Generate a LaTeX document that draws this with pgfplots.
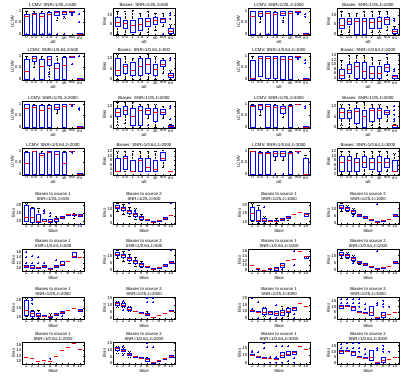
\documentclass[border=0pt]{standalone}
\usepackage{fontspec}
\setmainfont{Liberation Sans}
\usepackage{pgfplots}
\pgfplotsset{compat=1.18}
\usepgfplotslibrary{statistics}
\newcommand\fs{\fontsize{4.3}{4.8}\selectfont}
\pgfplotsset{
  pan/.style={scale only axis, width=62pt, anchor=north west, font=\fs,
    tick label style={font=\fs}, label style={font=\fs},
    every axis title shift=0.3pt,
    title style={font=\fs, inner sep=0.5pt, align=center},
    /pgf/number format/assume math mode=true, scaled ticks=false,
    tick align=inside, major tick length=1.2pt,
    axis line style={line width=0.5pt},
    every tick/.style={line width=0.3pt},
    ylabel style={inner sep=0.6pt}, xlabel style={inner sep=0.4pt},
    yticklabel style={inner sep=0.6pt}, xticklabel style={inner sep=0.7pt},
    clip=false},
  top/.style={pan, height=27pt, xmin=0.4, xmax=8.6, xtick={1,...,8},
    xticklabels={0,0.5,1,1.5,2,sh,ma,mi}, xlabel={α0}, boxplot/box extend=0.6},
  lc/.style={top, ylabel=LCMV, ymin=-0.05, ymax=1.12, ytick={0,0.5,1}},
  bi/.style={top, ylabel=Bias},
  bot/.style={pan, height=22pt, xmin=0.3, xmax=10.7, xtick={1,...,10}, xlabel=Slice, ylabel=Bias, boxplot/box extend=0.65},
  bxs/.style={draw=blue, line width=0.35pt, solid, boxplot/draw direction=y,
    boxplot/whisker extend=0.3,
    boxplot/every median/.style={draw=red, line width=0.45pt},
    boxplot/every whisker/.style={draw=black, dash pattern=on 0.8pt off 0.6pt}},
}
\newcommand\bx[6]{\addplot[bxs, boxplot prepared={draw position=#1, lower whisker=#2, lower quartile=#3, median=#4, upper quartile=#5, upper whisker=#6}] coordinates {};}
\newcommand\ol[1]{\addplot[only marks, mark=+, mark size=1pt, blue, line width=0.3pt] coordinates {#1};}
\begin{document}
\begin{tikzpicture}
\useasboundingbox (0,0) rectangle (403pt,376pt);
% ---------------- Row 1
\begin{axis}[lc, at={(22pt,368pt)}, title={LCMV: SNR=1/25,J=500}]
\bx{1}{0}{0}{0.75}{0.85}{1}
\bx{2}{0}{0}{0.85}{0.9}{1}
\bx{3}{0}{0}{0.75}{0.9}{1}
\bx{4}{0}{0}{0.85}{0.95}{1}
\bx{5}{0.6}{0.8}{0.95}{1}{1}
\bx{6}{0.7}{0.85}{0.95}{1}{1}
\bx{7}{0.85}{0.92}{0.98}{1}{1}
\bx{8}{0}{0}{0}{0.03}{0.05}
\ol{(1,0) (2,0) (3,0) (4,0) (5,0) (6,0) (6,0.75) (7,0.8) (7,0.86) (7,0.9) (8,0.85) (8,0.5)}
\end{axis}
\begin{axis}[bi, at={(113pt,368pt)}, title={Biases: SNR=1/25,J=500}, ymin=-0.5, ymax=13.5, ytick={0,5,10}]
\bx{1}{0}{4}{6}{9}{12}
\bx{2}{0}{3}{5.5}{7}{12}
\bx{3}{0}{1}{4.5}{7}{12.5}
\bx{4}{0}{2}{5}{8}{11}
\bx{5}{1}{4}{6.5}{8}{12}
\bx{6}{2}{5}{7}{9}{11}
\bx{7}{4}{6}{7.5}{8}{11}
\bx{8}{0}{0.5}{1.5}{3}{5}
\ol{(7,0) (8,8) (8,10) (8,11)}
\end{axis}
\begin{axis}[lc, at={(248pt,368pt)}, title={LCMV: SNR=1/25,J=1000}]
\bx{1}{0}{0}{0.75}{1}{1}
\bx{2}{0.5}{0.75}{0.9}{1}{1}
\bx{3}{0}{0}{0.9}{1}{1}
\bx{4}{0}{0}{0.85}{0.95}{1}
\bx{5}{0.6}{0.8}{0.9}{1}{1}
\bx{6}{0}{0}{0.9}{1}{1}
\bx{7}{0.88}{0.93}{0.97}{1}{1}
\bx{8}{0}{0}{0}{0.02}{0.03}
\ol{(2,0) (3,0) (5,0.5) (7,0.85) (7,0.9) (8,0.85) (8,0.75)}
\end{axis}
\begin{axis}[bi, at={(337pt,368pt)}, title={Biases: SNR=1/25,J=1000}, ymin=-0.5, ymax=13.5, ytick={0,5,10}]
\bx{1}{0}{3}{4.5}{8}{12}
\bx{2}{1}{5}{6.5}{8}{11}
\bx{3}{0}{0}{6.5}{8}{11}
\bx{4}{0}{0}{6.5}{8}{12}
\bx{5}{1}{3}{6}{8}{12}
\bx{6}{1}{3}{6.5}{9}{12}
\bx{7}{2}{5}{7.5}{9}{12}
\bx{8}{0}{0.5}{1.5}{2.5}{4}
\ol{(8,7) (8,8)}
\end{axis}
% ---------------- Row 2
\begin{axis}[lc, at={(22pt,323pt)}, title={LCMV: SNR=1/0.64,J=500}]
\bx{1}{0}{0}{0.35}{0.85}{1}
\bx{2}{0.5}{0.75}{0.9}{1}{1}
\bx{3}{0}{0}{0.55}{0.85}{1}
\bx{4}{0.2}{0.6}{0.85}{1}{1}
\bx{5}{0}{0}{0.45}{0.7}{1}
\bx{6}{0}{0}{0.6}{0.95}{1}
\bx{7}{0.92}{0.96}{1}{1}{1}
\bx{8}{0}{0}{0}{0.02}{0.02}
\ol{(2,0) (4,0.1) (4,0.3) (7,0.65) (8,1)}
\end{axis}
\begin{axis}[bi, at={(113pt,323pt)}, title={Biases: SNR=1/0.64,J=500}, ymin=-0.5, ymax=12.5, ytick={0,5,10}]
\bx{1}{0}{2}{4}{10}{12}
\bx{2}{0}{3}{6}{7}{11}
\bx{3}{0}{2}{4}{8}{10}
\bx{4}{0}{2}{6}{10}{11}
\bx{5}{0}{3}{7}{10}{12}
\bx{6}{0}{2}{4.5}{7}{11}
\bx{7}{3}{6}{7}{9}{10}
\bx{8}{0}{1}{2}{3}{4}
\ol{(8,9) (8,10)}
\end{axis}
\begin{axis}[lc, at={(248pt,323pt)}, title={LCMV: SNR=1/0.64,J=1000}]
\bx{1}{0}{0}{0.02}{0.8}{1}
\bx{2}{0.1}{0.1}{0.9}{1}{1}
\bx{3}{0.05}{0.05}{0.9}{1}{1}
\bx{4}{0.05}{0.05}{0.9}{1}{1}
\bx{5}{0}{0}{0.85}{1}{1}
\bx{6}{0}{0}{0.85}{1}{1}
\bx{7}{0.88}{0.93}{0.97}{1}{1}
\bx{8}{0}{0}{0}{0.02}{0.02}
\ol{(7,0.85) (7,0.9) (8,0.7) (8,0.8)}
\end{axis}
\begin{axis}[bi, at={(337pt,323pt)}, title={Biases: SNR=1/0.64,J=1000}, ymin=3, ymax=15, ytick={4,6,...,14}]
\bx{1}{3}{4}{5}{8}{12}
\bx{2}{3}{6}{8}{10}{14}
\bx{3}{3}{4}{9}{11}{14}
\bx{4}{3}{4}{7}{11}{14}
\bx{5}{3}{4}{6}{9}{13}
\bx{6}{3}{4}{6}{9}{12}
\bx{7}{5}{7}{8.5}{10}{13}
\bx{8}{4}{4}{4.5}{5}{5}
\ol{(7,14.5) (8,7) (8,8)}
\end{axis}
% ---------------- Row 3
\begin{axis}[lc, at={(22pt,275pt)}, title={LCMV: SNR=1/25,J=2000}]
\bx{1}{0}{0}{0.8}{1}{1}
\bx{2}{0}{0}{0.85}{0.95}{1}
\bx{3}{0}{0}{0.7}{0.95}{1}
\bx{4}{0}{0}{0.8}{0.95}{1}
\bx{5}{0.6}{0.75}{0.85}{1}{1}
\bx{6}{0}{0}{0.9}{1}{1}
\bx{7}{0.95}{0.97}{1}{1}{1}
\bx{8}{0}{0}{0}{0.02}{0.02}
\ol{(7,0.9) (7,0.95) (8,0.8) (8,0.75)}
\end{axis}
\begin{axis}[bi, at={(113pt,275pt)}, title={Biases: SNR=1/25,J=2000}, ymin=-0.5, ymax=12.5, ytick={0,5,10}]
\bx{1}{1}{5}{7}{9}{12}
\bx{2}{2}{6}{8}{10}{12}
\bx{3}{0}{1}{5}{9}{12}
\bx{4}{0}{1}{8}{10}{11}
\bx{5}{4}{6}{8}{9}{11}
\bx{6}{0}{3}{7}{9}{11}
\bx{7}{4}{6}{7}{8.5}{10}
\bx{8}{0}{0}{0.5}{1}{1.5}
\ol{(5,1) (8,9) (8,10) (8,4)}
\end{axis}
\begin{axis}[lc, at={(248pt,275pt)}, title={LCMV: SNR=1/25,J=3000}]
\bx{1}{0}{0}{0.9}{0.95}{1}
\bx{2}{0.5}{0.75}{0.95}{1}{1}
\bx{3}{0}{0}{0.9}{1}{1}
\bx{4}{0}{0}{0.85}{0.95}{1}
\bx{5}{0.4}{0.6}{0.8}{0.9}{1}
\bx{6}{0}{0}{0.9}{0.95}{1}
\bx{7}{0.97}{0.98}{1}{1}{1}
\bx{8}{0}{0}{0}{0.02}{0.02}
\ol{(8,0.8) (8,0.9)}
\end{axis}
\begin{axis}[bi, at={(337pt,275pt)}, title={Biases: SNR=1/25,J=3000}, ymin=-0.5, ymax=12.5, ytick={0,5,10}]
\bx{1}{1}{4}{7}{9}{11}
\bx{2}{0}{4}{7}{8}{11}
\bx{3}{0}{2}{7.5}{9}{12}
\bx{4}{0}{0}{5}{8}{12}
\bx{5}{1}{3}{8}{9}{11}
\bx{6}{0}{4}{8}{9}{11}
\bx{7}{3}{6}{7}{8}{10}
\bx{8}{0}{0}{1}{1}{1.5}
\ol{(8,3) (8,4) (8,6) (8,8) (8,10)}
\end{axis}
% ---------------- Row 4
\begin{axis}[lc, at={(22pt,228pt)}, title={LCMV: SNR=1/0.64,J=2000}]
\bx{1}{0}{0}{0.45}{0.95}{1}
\bx{2}{0}{0}{1}{1}{1}
\bx{3}{0}{0}{0.8}{0.9}{1}
\bx{4}{0}{0}{0.95}{1}{1}
\bx{5}{0}{0}{0.85}{1}{1}
\bx{6}{0}{0}{0.45}{0.95}{1}
\bx{7}{0.97}{0.98}{1}{1}{1}
\bx{8}{0}{0}{0}{0.02}{0.02}
\ol{(7,0.95) (7,0.92)}
\end{axis}
\begin{axis}[bi, at={(113pt,228pt)}, title={Biases: SNR=1/0.64,J=2000}, ymin=1.5, ymax=13.5, ytick={2,4,...,12}]
\bx{1}{3}{3}{3}{9}{12}
\bx{2}{3}{4}{9}{10}{12}
\bx{3}{3}{3}{3}{8}{12}
\bx{4}{3}{3}{8}{9}{12}
\bx{5}{3}{3}{5}{9}{12}
\bx{6}{3}{3}{4}{8}{12}
\bx{7}{5}{8}{9}{11.5}{12.5}
\bx{8}{3}{3}{3}{3}{3}
\end{axis}
\begin{axis}[lc, at={(248pt,228pt)}, title={LCMV: SNR=1/0.64,J=3000}]
\bx{1}{0}{0}{1}{1}{1}
\bx{2}{0}{0}{0.9}{0.95}{1}
\bx{3}{0}{0}{0.9}{0.95}{1}
\bx{4}{0.6}{0.75}{0.9}{1}{1}
\bx{5}{0.6}{0.75}{0.9}{1}{1}
\bx{6}{0}{0}{0.9}{0.95}{1}
\bx{7}{0.97}{0.98}{1}{1}{1}
\bx{8}{0}{0}{0}{0.7}{0.8}
\ol{(4,0) (5,0) (7,0.92)}
\end{axis}
\begin{axis}[bi, at={(337pt,228pt)}, title={Biases: SNR=1/0.64,J=3000}, ymin=1.5, ymax=13.5, ytick={2,4,...,12}]
\bx{1}{1.8}{3}{7}{10}{12}
\bx{2}{1.8}{3}{8}{10}{12}
\bx{3}{1.8}{3}{7}{9}{11}
\bx{4}{1.8}{5}{7}{10}{12}
\bx{5}{2}{4}{7}{9}{12}
\bx{6}{1.8}{3}{7}{10}{12}
\bx{7}{3}{5}{7}{9}{12}
\bx{8}{3}{3}{3}{8}{11}
\end{axis}
% ---------------- Row 5
\begin{axis}[bot, at={(22pt,174pt)}, title={Biases to source 1\\SNR=1/25,J=500}, ymin=8, ymax=22, ytick={10,15,20}]
\bx{1}{10}{10}{12}{20}{21}
\bx{2}{8}{9}{12}{18}{19}
\bx{3}{8}{9}{10}{14}{18}
\bx{4}{10}{10}{10}{11}{11}
\bx{5}{9}{9}{10}{11}{11}
\bx{6}{9}{10}{11}{12}{13}
\bx{7}{12}{12}{12.5}{13}{13}
\bx{8}{13.5}{13.5}{14}{14.5}{14.5}
\bx{9}{12}{13.8}{14}{14.2}{15}
\bx{10}{13}{13}{13.5}{14}{14}
\ol{(4,15) (4,16) (4,17) (5,13) (5,15) (10,8)}
\end{axis}
\begin{axis}[bot, at={(113pt,174pt)}, title={Biases to source 2\\SNR=1/25,J=500}, ymin=-0.5, ymax=14.5, ytick={0,5,10}]
\bx{1}{8}{10}{11}{12}{14}
\bx{2}{6}{9}{10}{11}{13}
\bx{3}{5}{7}{8}{9}{11}
\bx{4}{3}{5}{6}{7}{10}
\bx{5}{2}{3}{4}{5}{6}
\bx{6}{2}{2}{2.5}{3}{3}
\bx{7}{0.5}{0.5}{1}{1.5}{1.5}
\bx{8}{1.5}{1.5}{1.8}{2}{2}
\bx{9}{3}{3}{3.5}{4}{4}
\bx{10}{5.5}{5.5}{5.5}{5.5}{5.5}
\ol{(3,14) (4,8) (4,9) (10,14)}
\end{axis}
\begin{axis}[bot, at={(248pt,174pt)}, title={Biases to source 1\\SNR=1/25,J=1000}, ymin=8.5, ymax=22, ytick={10,15,20}]
\bx{1}{10}{11}{15}{19}{21}
\bx{2}{9}{10}{11}{17}{20}
\bx{3}{9}{10}{11}{12}{13}
\bx{4}{10}{10}{10.5}{11}{11}
\bx{5}{9}{10}{10.5}{11}{12}
\bx{6}{11}{11}{11.5}{12}{12}
\bx{7}{11}{12}{12.5}{13}{13.5}
\bx{8}{14.5}{14.5}{14.5}{14.5}{14.5}
\bx{9}{16}{16}{16}{16}{16}
\bx{10}{13.5}{13.5}{14.5}{15}{15}
\ol{(3,19)}
\end{axis}
\begin{axis}[bot, at={(337pt,174pt)}, title={Biases to source 2\\SNR=1/25,J=1000}, ymin=-0.5, ymax=14.5, ytick={0,5,10}]
\bx{1}{8}{10}{11}{12}{14}
\bx{2}{8}{9}{10}{11}{12}
\bx{3}{6}{7}{8}{9}{10}
\bx{4}{5}{5}{5.5}{6}{6}
\bx{5}{3.5}{3.5}{4}{4.5}{4.5}
\bx{6}{2}{2}{2.5}{3}{3}
\bx{7}{0.5}{0.5}{1}{1.5}{1.5}
\bx{8}{1.5}{1.5}{1.8}{2}{2}
\bx{9}{3}{3}{3}{3}{3}
\bx{10}{5}{5}{5.5}{6}{6}
\ol{(3,5) (7,13)}
\end{axis}
% ---------------- Row 6
\begin{axis}[bot, at={(22pt,127pt)}, title={Biases to source 1\\SNR=1/0.64,J=500}, ymin=9, ymax=17, ytick={10,12,14,16}]
\bx{1}{10.5}{10.5}{10.7}{11}{11}
\bx{2}{10}{10}{10.5}{11}{11}
\bx{3}{10}{10}{10.2}{10.5}{10.5}
\bx{4}{10.5}{10.5}{10.8}{11}{11}
\bx{5}{9.5}{9.5}{9.8}{10}{10}
\bx{6}{10.5}{10.5}{10.8}{11}{11}
\bx{7}{11}{11}{11.5}{12.5}{12.5}
\bx{8}{12.5}{12.5}{12.5}{12.5}{12.5}
\bx{9}{14}{14}{14.5}{16}{16}
\bx{10}{14}{14}{14}{14}{14}
\ol{(1,12) (1,14) (1,16) (2,12) (2,14.5) (3,12) (3,14) (4,12) (6,13)}
\end{axis}
\begin{axis}[bot, at={(113pt,127pt)}, title={Biases to source 2\\SNR=1/0.64,J=500}, ymin=-0.5, ymax=14.5, ytick={0,5,10}]
\bx{1}{8}{10}{11}{12}{14}
\bx{2}{6}{9}{10}{11}{13}
\bx{3}{5}{7}{8}{9}{11}
\bx{4}{3}{5}{6}{7}{9}
\bx{5}{2}{3}{4}{5}{6}
\bx{6}{2}{2}{2.5}{3}{3}
\bx{7}{0.5}{0.5}{1}{1.5}{1.5}
\bx{8}{1.5}{1.5}{1.8}{2}{2}
\bx{9}{3}{3}{3.5}{4}{4}
\bx{10}{5}{5}{5.5}{6}{6}
\ol{(3,14) (10,14)}
\end{axis}
\begin{axis}[bot, at={(248pt,127pt)}, title={Biases to source 1\\SNR=1/0.64,J=1000}, ymin=7.5, ymax=17, ytick={8,10,...,16}]
\bx{1}{10}{10}{10}{10}{10}
\bx{2}{8.5}{8.5}{8.5}{8.5}{8.5}
\bx{3}{8}{8}{8}{8}{8}
\bx{4}{8.5}{8.5}{8.5}{8.5}{8.5}
\bx{5}{8}{8}{8.5}{9}{9}
\bx{6}{9}{9}{10}{11}{11}
\bx{7}{12}{12}{12}{12}{12}
\bx{8}{12.5}{12.5}{12.5}{12.5}{12.5}
\bx{9}{16}{16}{16}{16}{16}
\bx{10}{13}{13}{14}{14}{14}
\ol{(6,8.5) (8,10) (8,16) (10,13)}
\end{axis}
\begin{axis}[bot, at={(337pt,127pt)}, title={Biases to source 2\\SNR=1/0.64,J=1000}, ymin=-0.5, ymax=14.5, ytick={0,5,10}]
\bx{1}{8}{10}{11}{12}{14}
\bx{2}{8}{9}{10}{11}{12}
\bx{3}{6}{7}{8}{9}{10}
\bx{4}{4}{5}{5.5}{6}{6}
\bx{5}{3.5}{3.5}{4}{4.5}{4.5}
\bx{6}{2}{2}{2.5}{3}{3}
\bx{7}{0.5}{0.5}{1}{1.5}{1.5}
\bx{8}{1.5}{1.5}{1.8}{2}{2}
\bx{9}{3}{3}{3}{3}{3}
\bx{10}{5}{5}{5.5}{6}{6}
\ol{(3,5) (7,13)}
\end{axis}
% ---------------- Row 7
\begin{axis}[bot, at={(22pt,79pt)}, title={Biases to source 1\\SNR=1/25,J=2000}, ymin=8.5, ymax=22, ytick={10,15,20}]
\bx{1}{10}{11}{14}{20}{21}
\bx{2}{9}{10}{12}{13}{14}
\bx{3}{9}{10}{11}{12}{14}
\bx{4}{10}{10}{10.5}{11}{11}
\bx{5}{9}{9.5}{10}{10.5}{12}
\bx{6}{11}{11}{11.5}{12}{12}
\bx{7}{10}{12}{12.5}{13}{13}
\bx{8}{14}{14}{14}{14}{14}
\bx{9}{15}{15}{15}{15}{15}
\bx{10}{13.5}{13.5}{14}{14.5}{14.5}
\ol{(2,18) (2,20) (2,21) (7,10.5)}
\end{axis}
\begin{axis}[bot, at={(113pt,79pt)}, title={Biases to source 2\\SNR=1/25,J=2000}, ymin=-0.5, ymax=16, ytick={0,5,10,15}]
\bx{1}{8}{10}{11}{12}{13}
\bx{2}{8}{9}{10}{11}{12}
\bx{3}{5}{6}{7}{8}{9}
\bx{4}{5}{5}{5.2}{5.5}{5.5}
\bx{5}{4}{4}{4.2}{4.5}{4.5}
\bx{6}{2}{2}{3}{4}{5}
\bx{7}{0.5}{0.5}{0.8}{1}{1}
\bx{8}{2}{2}{2}{2}{2}
\bx{9}{3.5}{3.5}{3.5}{3.5}{3.5}
\bx{10}{5}{5}{5.5}{6}{6}
\ol{(2,13) (2,6) (6,12) (6,15) (7,12) (7,15)}
\end{axis}
\begin{axis}[bot, at={(248pt,79pt)}, title={Biases to source 1\\SNR=1/25,J=3000}, ymin=4, ymax=21, ytick={5,10,15,20}]
\bx{1}{10}{10}{10.5}{11}{11}
\bx{2}{9}{9}{9.5}{10}{10}
\bx{3}{6}{8}{9}{12}{13}
\bx{4}{8}{8}{9}{10}{10}
\bx{5}{7}{7}{8.5}{10}{10}
\bx{6}{5}{7}{9}{11}{14}
\bx{7}{6}{9}{10}{12}{13}
\bx{8}{11}{11}{12}{13}{13}
\bx{9}{16}{16}{16}{16}{16}
\bx{10}{14}{14}{14}{14}{14}
\ol{(1,20) (1,12) (2,17) (2,5) (4,5) (5,5) (5,15) (8,5) (8,8)}
\end{axis}
\begin{axis}[bot, at={(337pt,79pt)}, title={Biases to source 2\\SNR=1/25,J=3000}, ymin=-0.5, ymax=18, ytick={0,5,10,15}]
\bx{1}{9}{9}{10}{11}{11}
\bx{2}{10}{10}{10.5}{11}{11}
\bx{3}{7}{7}{9}{10}{10}
\bx{4}{5}{5}{5.5}{6}{6}
\bx{5}{4}{4}{4.5}{5}{5}
\bx{6}{3}{3}{5}{10}{10}
\bx{7}{0.5}{0.5}{1}{1}{1}
\bx{8}{1}{1}{3}{5}{5}
\bx{9}{3.5}{3.5}{3.5}{3.5}{3.5}
\bx{10}{5}{5}{5}{5}{5}
\ol{(1,13) (1,16) (2,13) (2,16) (3,13) (3,16) (4,10) (4,13) (4,16) (5,8) (5,12) (7,11) (7,13) (8,10) (8,12) (8,15) (9,10)}
\end{axis}
% ---------------- Row 8
\begin{axis}[bot, at={(22pt,34pt)}, title={Biases to source 1\\SNR=1/0.64,J=2000}, ymin=9, ymax=17, ytick={10,12,14,16}]
\bx{1}{11.5}{11.5}{11.5}{11.5}{11.5}
\bx{2}{11}{11}{11}{11}{11}
\bx{3}{10}{10}{10}{10}{10}
\bx{4}{10.5}{10.5}{10.5}{10.5}{10.5}
\bx{5}{10}{10}{10}{10}{10}
\bx{6}{12}{12}{12}{12}{12}
\bx{7}{14}{14}{14}{14}{14}
\bx{8}{15}{15}{15}{15}{15}
\bx{9}{16.5}{16.5}{16.5}{16.5}{16.5}
\bx{10}{14.5}{14.5}{14.5}{14.5}{14.5}
\ol{(5,11)}
\end{axis}
\begin{axis}[bot, at={(113pt,34pt)}, title={Biases to source 2\\SNR=1/0.64,J=2000}, ymin=-0.5, ymax=16, ytick={0,5,10,15}]
\bx{1}{8}{10}{11}{12}{13}
\bx{2}{8}{9}{10}{11}{12}
\bx{3}{5}{6}{7}{8}{9}
\bx{4}{5}{5}{5.2}{5.5}{5.5}
\bx{5}{4}{4}{4.2}{4.5}{4.5}
\bx{6}{2}{2}{3}{4}{5}
\bx{7}{0.5}{0.5}{0.8}{1}{1}
\bx{8}{2}{2}{2}{2}{2}
\bx{9}{3.5}{3.5}{3.5}{3.5}{3.5}
\bx{10}{5}{5}{5.5}{6}{6}
\ol{(2,13) (2,6) (6,12) (6,15) (7,12)}
\end{axis}
\begin{axis}[bot, at={(248pt,34pt)}, title={Biases to source 1\\SNR=1/0.64,J=3000}, ymin=4, ymax=19, ytick={5,10,15}]
\bx{1}{10}{10}{10.2}{10.5}{10.5}
\bx{2}{9}{9}{9.2}{9.5}{9.5}
\bx{3}{8}{8}{8}{8.5}{8.5}
\bx{4}{8}{8}{8}{8}{8}
\bx{5}{7}{7}{7.5}{8}{8}
\bx{6}{9}{9}{10}{12}{12}
\bx{7}{10}{10}{11}{13}{13}
\bx{8}{11}{11}{12}{13}{13}
\bx{9}{16}{16}{16}{16}{16}
\bx{10}{14}{14}{14}{14}{14}
\ol{(1,12) (1,13) (2,12) (3,15) (3,18) (4,5) (4,9) (5,5) (5,9) (5,16) (6,5) (6,16) (7,6) (7,16) (8,5) (8,8)}
\end{axis}
\begin{axis}[bot, at={(337pt,34pt)}, title={Biases to source 2\\SNR=1/0.64,J=3000}, ymin=-0.5, ymax=18, ytick={0,5,10,15}]
\bx{1}{9}{9}{10}{11}{11}
\bx{2}{10}{10}{10.5}{11}{11}
\bx{3}{7}{7}{9}{10}{10}
\bx{4}{5}{5}{5.5}{6}{6}
\bx{5}{4}{4}{4.5}{5}{5}
\bx{6}{3}{3}{5}{11}{11}
\bx{7}{0.5}{0.5}{1}{1}{1}
\bx{8}{1}{1}{3}{5}{5}
\bx{9}{3.5}{3.5}{3.5}{3.5}{3.5}
\bx{10}{5}{5}{5}{5}{5}
\ol{(1,13) (1,16) (2,13) (2,17) (3,13) (3,17) (4,10) (4,13) (4,17) (5,8) (5,12) (7,11) (7,13) (8,10) (8,12) (8,15) (9,10)}
\end{axis}
\end{tikzpicture}
\end{document}
